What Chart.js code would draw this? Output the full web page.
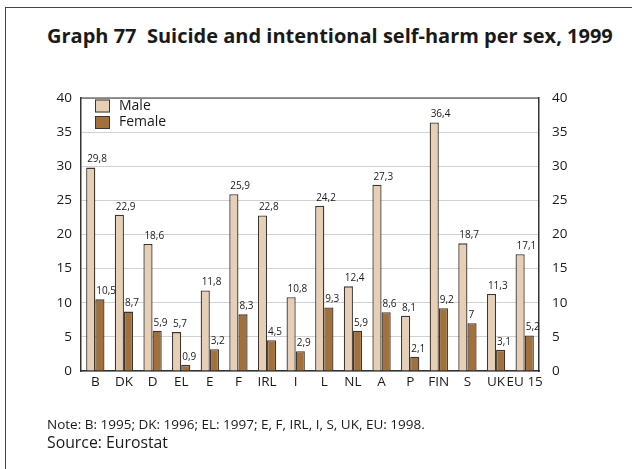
<!DOCTYPE html>
<html>
<head>
<meta charset="utf-8">
<script src="https://cdn.jsdelivr.net/npm/chart.js@4/dist/chart.umd.min.js"></script>
<style>
  body { margin: 0; background: #fff; }
  #wrap { position: relative; width: 632px; height: 469px; overflow: hidden; font-family: 'Open Sans', sans-serif; color: #1a1a1a; }
  #frame { position: absolute; left: 5px; top: 7px; width: 700px; height: 600px; border-left: 1px solid #444; border-top: 1px solid #444; }
  #title { position: absolute; left: 47px; top: 22px; font-size: 20px; font-weight: bold; white-space: pre; }
  #note { position: absolute; left: 47px; top: 414.5px; font-size: 13.5px; white-space: pre; }
  #source { position: absolute; left: 47px; top: 431px; font-size: 15.8px; white-space: pre; }
  canvas { position: absolute; left: 0; top: 0; }
</style>
</head>
<body>
<div id="wrap">
  <div id="frame"></div>
  <div id="title">Graph 77  Suicide and intentional self-harm per sex, 1999</div>
  <canvas id="chart" width="632" height="469"></canvas>
  <div id="note">Note: B: 1995; DK: 1996; EL: 1997; E, F, IRL, I, S, UK, EU: 1998.</div>
  <div id="source">Source: Eurostat</div>
</div>
<script>
// data
const categories = ['B', 'DK', 'D', 'EL', 'E', 'F', 'IRL', 'I', 'L', 'NL', 'A', 'P', 'FIN', 'S', 'UK', 'EU 15'];
const maleValues = [29.8, 22.9, 18.6, 5.7, 11.8, 25.9, 22.8, 10.8, 24.2, 12.4, 27.3, 8.1, 36.4, 18.7, 11.3, 17.1];
const femaleValues = [10.5, 8.7, 5.9, 0.9, 3.2, 8.3, 4.5, 2.9, 9.3, 5.9, 8.6, 2.1, 9.2, 7, 3.1, 5.2];
const seriesNames = ['Male', 'Female'];
const yMin = 0, yMax = 40, yStep = 5;

const maleColor = '#e6cfb5';
const femaleColor = '#a2703a';
const edgeColor = '#3b3631';
const textColor = '#1a1a1a';

Chart.defaults.font.family = "'Open Sans', sans-serif";
Chart.defaults.color = textColor;

// value labels above each bar, comma as decimal separator
const valueLabels = {
    id: 'valueLabels',
    afterDatasetsDraw(chart) {
        const ctx = chart.ctx;
        ctx.save();
        ctx.font = "10px 'Open Sans', sans-serif";
        ctx.fillStyle = textColor;
        ctx.textAlign = 'left';
        ctx.textBaseline = 'bottom';
        chart.data.datasets.forEach((ds, i) => {
            chart.getDatasetMeta(i).data.forEach((bar, j) => {
                const txt = String(ds.data[j]).replace('.', ',');
                ctx.fillText(txt, bar.x - bar.width / 2 + 1, bar.y - 3);
            });
        });
        ctx.restore();
    }
};

// top edge of plot box + legend inside the plot
const boxAndLegend = {
    id: 'boxAndLegend',
    afterDraw(chart) {
        const ctx = chart.ctx;
        const a = chart.chartArea;
        ctx.save();
        ctx.strokeStyle = '#333';
        ctx.lineWidth = 1.2;
        ctx.beginPath();
        ctx.moveTo(a.left, a.top);
        ctx.lineTo(a.right, a.top);
        ctx.stroke();

        const fills = [maleColor, femaleColor];
        ctx.font = "14px 'Open Sans', sans-serif";
        ctx.textBaseline = 'middle';
        ctx.textAlign = 'left';
        seriesNames.forEach((name, i) => {
            const y = a.top + 1.5 + i * 16.5;
            ctx.fillStyle = fills[i];
            ctx.fillRect(a.left + 14, y, 15, 13);
            ctx.strokeStyle = edgeColor;
            ctx.lineWidth = 1;
            ctx.strokeRect(a.left + 14.5, y + 0.5, 14, 12);
            ctx.fillStyle = textColor;
            ctx.fillText(name, a.left + 38, y + 6.5);
        });
        ctx.restore();
    }
};

const ctx = document.getElementById('chart').getContext('2d');
new Chart(ctx, {
    type: 'bar',
    data: {
        labels: categories,
        datasets: [
            { label: seriesNames[0], data: maleValues, backgroundColor: maleColor, borderColor: edgeColor, borderWidth: 1.3, yAxisID: 'y' },
            { label: seriesNames[1], data: femaleValues, backgroundColor: femaleColor, borderColor: edgeColor, borderWidth: 1.3, yAxisID: 'y' }
        ]
    },
    options: {
        responsive: false,
        animation: false,
        devicePixelRatio: 1,
        categoryPercentage: 0.64,
        barPercentage: 1,
        layout: { padding: { top: 98, left: 0, right: 0, bottom: 0 } },
        plugins: {
            legend: { display: false },
            tooltip: { enabled: false }
        },
        scales: {
            x: {
                grid: { display: false, drawTicks: false },
                border: { display: true, color: '#333', width: 1.5 },
                ticks: { color: textColor, font: { size: 13.5 }, padding: 3, maxRotation: 0, autoSkip: false },
                afterFit(scale) { scale.height = 98; }
            },
            y: {
                position: 'left',
                min: yMin,
                max: yMax,
                ticks: { stepSize: yStep, color: textColor, font: { size: 13.5 }, padding: 9 },
                grid: { color: '#d2d2d2', lineWidth: 1, drawTicks: false },
                border: { display: true, color: '#333', width: 1.5 },
                afterFit(scale) { scale.width = 81; }
            },
            y2: {
                position: 'right',
                min: yMin,
                max: yMax,
                ticks: { stepSize: yStep, color: textColor, font: { size: 13.5 }, padding: 13 },
                grid: { drawOnChartArea: false, drawTicks: false },
                border: { display: true, color: '#333', width: 1.5 },
                afterFit(scale) { scale.width = 93; }
            }
        }
    },
    plugins: [valueLabels, boxAndLegend]
});
</script>
</body>
</html>
